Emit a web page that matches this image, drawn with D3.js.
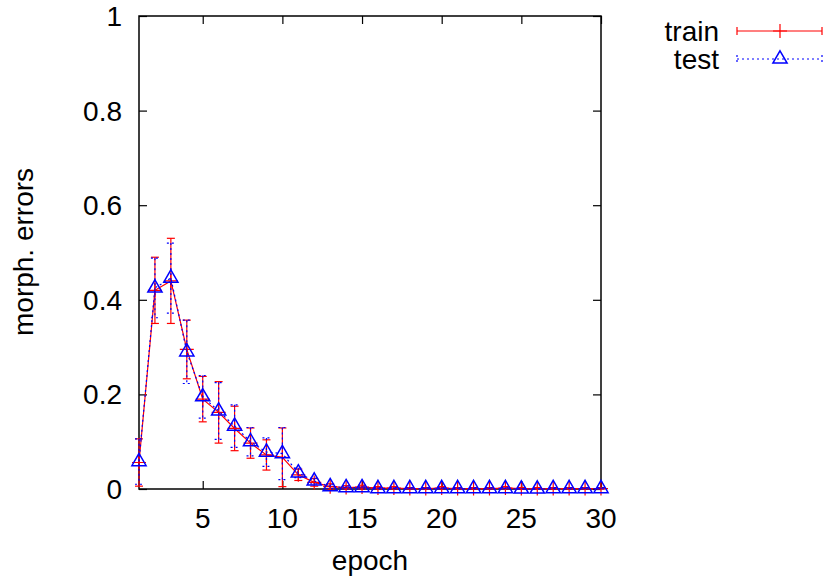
<!DOCTYPE html>
<html>
<head>
<meta charset="utf-8">
<script src="https://cdn.jsdelivr.net/npm/d3@7"></script>
<style>
  html, body { margin: 0; padding: 0; background: #fff; }
  svg { display: block; }
  text { font-family: "Liberation Sans", Arial, sans-serif; fill: #000; }
</style>
</head>
<body>
<svg id="chart" width="825" height="577"></svg>
<script>
// ---- data ----
const epochs = d3.range(1, 31);
const trainMean = [0.056, 0.420, 0.440, 0.295, 0.190, 0.162, 0.128, 0.097, 0.072, 0.067,
                   0.030, 0.014, 0.005, 0.003, 0.004, 0.002, 0.002, 0.001, 0.001, 0.002,
                   0.001, 0.001, 0.001, 0.002, 0.001, 0.001, 0.001, 0.001, 0.001, 0.001];
const trainErr  = [0.050, 0.070, 0.090, 0.062, 0.048, 0.065, 0.047, 0.032, 0.032, 0.062,
                   0.012, 0.008, 0.006, 0.004, 0.004, 0.003, 0.003, 0.002, 0.002, 0.003,
                   0.002, 0.002, 0.002, 0.003, 0.002, 0.002, 0.002, 0.002, 0.002, 0.002];
const testMean  = [0.058, 0.425, 0.446, 0.290, 0.195, 0.165, 0.133, 0.100, 0.078, 0.075,
                   0.034, 0.017, 0.005, 0.003, 0.003, 0.001, 0.001, 0.001, 0.001, 0.001,
                   0.001, 0.001, 0.001, 0.001, 0.000, 0.000, 0.001, 0.001, 0.001, 0.001];
const testErr   = [0.048, 0.063, 0.074, 0.067, 0.045, 0.060, 0.045, 0.030, 0.030, 0.055,
                   0.010, 0.006, 0.004, 0.003, 0.003, 0.002, 0.002, 0.002, 0.002, 0.002,
                   0.002, 0.002, 0.002, 0.002, 0.001, 0.001, 0.002, 0.002, 0.002, 0.002];
const xTicks = [5, 10, 15, 20, 25, 30];
const yTicks = [0, 0.2, 0.4, 0.6, 0.8, 1];
const seriesNames = ["train", "test"];

// ---- layout ----
const svg = d3.select("#chart");
const L = 139, R = 601, T = 16, B = 489;
const x = d3.scaleLinear().domain([1, 30]).range([L, R]);
const y = d3.scaleLinear().domain([0, 1]).range([B, T]);
const fontSize = 28;
const tickLen = 8;

const red = "#ff0000", blue = "#0000ff";

// axes with mirrored ticks
const gAx = svg.append("g");
gAx.append("g").attr("transform", `translate(0,${B})`)
  .call(d3.axisBottom(x).tickValues(xTicks).tickSizeInner(-tickLen).tickSizeOuter(0).tickPadding(0).tickFormat(""));
gAx.append("g").attr("transform", `translate(0,${T})`)
  .call(d3.axisTop(x).tickValues(xTicks).tickSizeInner(-tickLen).tickSizeOuter(0).tickFormat(""));
gAx.append("g").attr("transform", `translate(${L},0)`)
  .call(d3.axisLeft(y).tickValues(yTicks).tickSizeInner(-tickLen).tickSizeOuter(0).tickFormat(""));
gAx.append("g").attr("transform", `translate(${R},0)`)
  .call(d3.axisRight(y).tickValues(yTicks).tickSizeInner(-tickLen).tickSizeOuter(0).tickFormat(""));
gAx.selectAll("path.domain").remove();
gAx.selectAll(".tick line").attr("stroke", "#000").attr("stroke-width", 1.2);

// border
svg.append("rect").attr("x", L).attr("y", T).attr("width", R - L).attr("height", B - T)
  .attr("fill", "none").attr("stroke", "#000").attr("stroke-width", 1.5);

// tick labels
svg.append("g").selectAll("text").data(xTicks).join("text")
  .attr("x", d => x(d)).attr("y", 528).attr("text-anchor", "middle")
  .attr("font-size", fontSize).text(d => d);
svg.append("g").selectAll("text").data(yTicks).join("text")
  .attr("x", 122).attr("y", d => y(d) + 10).attr("text-anchor", "end")
  .attr("font-size", fontSize).text(d => d3.format("")(d));

// axis titles
svg.append("text").attr("x", 370).attr("y", 570).attr("text-anchor", "middle")
  .attr("font-size", fontSize).text("epoch");
svg.append("text").attr("transform", "translate(33,252) rotate(-90)").attr("text-anchor", "middle")
  .attr("font-size", fontSize).text("morph. errors");

// ---- series ----
const capW = 4;
function drawSeries(means, errs, color, dash, marker) {
  const g = svg.append("g");
  const pts = epochs.map((e, i) => ({ e, m: means[i], s: errs[i] }));
  // line
  g.append("path").datum(pts)
    .attr("d", d3.line().x(d => x(d.e)).y(d => y(d.m)))
    .attr("fill", "none").attr("stroke", color).attr("stroke-width", 1.2)
    .attr("stroke-dasharray", dash);
  // error bars
  const eb = g.append("g").attr("stroke", color).attr("stroke-width", 1.2).attr("stroke-dasharray", dash);
  pts.forEach(d => {
    const cx = x(d.e), y1 = y(d.m + d.s), y0 = y(Math.max(0, d.m - d.s));
    eb.append("line").attr("x1", cx).attr("x2", cx).attr("y1", y1).attr("y2", y0);
    eb.append("line").attr("x1", cx - capW).attr("x2", cx + capW).attr("y1", y1).attr("y2", y1);
    eb.append("line").attr("x1", cx - capW).attr("x2", cx + capW).attr("y1", y0).attr("y2", y0);
  });
  // markers
  const mg = g.append("g");
  pts.forEach(d => marker(mg, x(d.e), y(d.m)));
}
function plusMarker(g, cx, cy) {
  g.append("path").attr("d", `M${cx - 7},${cy}H${cx + 7}M${cx},${cy - 7}V${cy + 7}`)
    .attr("stroke", red).attr("stroke-width", 1.2).attr("fill", "none");
}
function triMarker(g, cx, cy) {
  const h = 12.3, hw = 7.1;
  g.append("path")
    .attr("d", `M${cx},${cy - h * 2 / 3}L${cx + hw},${cy + h / 3}L${cx - hw},${cy + h / 3}Z`)
    .attr("stroke", blue).attr("stroke-width", 1.5).attr("fill", "none");
}
drawSeries(trainMean, trainErr, red, null, plusMarker);
drawSeries(testMean, testErr, blue, "2,3", triMarker);

// ---- legend ----
const legY = [31, 59];
const lx0 = 737, lx1 = 822, lmid = 780;
seriesNames.forEach((name, i) => {
  svg.append("text").attr("x", 719).attr("y", legY[i] + 9.5).attr("text-anchor", "end")
    .attr("font-size", fontSize).text(name);
});
const lg0 = svg.append("g").attr("stroke", red).attr("stroke-width", 1.2);
lg0.append("line").attr("x1", lx0).attr("x2", lx1).attr("y1", legY[0]).attr("y2", legY[0]);
lg0.append("line").attr("x1", lx0).attr("x2", lx0).attr("y1", legY[0] - 4).attr("y2", legY[0] + 4);
lg0.append("line").attr("x1", lx1).attr("x2", lx1).attr("y1", legY[0] - 4).attr("y2", legY[0] + 4);
plusMarker(svg, lmid, legY[0]);
const lg1 = svg.append("g").attr("stroke", blue).attr("stroke-width", 1.2).attr("stroke-dasharray", "2,3");
lg1.append("line").attr("x1", lx0).attr("x2", lx1).attr("y1", legY[1]).attr("y2", legY[1]);
lg1.append("line").attr("x1", lx0).attr("x2", lx0).attr("y1", legY[1] - 4).attr("y2", legY[1] + 4);
lg1.append("line").attr("x1", lx1).attr("x2", lx1).attr("y1", legY[1] - 4).attr("y2", legY[1] + 4);
triMarker(svg, lmid, legY[1]);
</script>
</body>
</html>
